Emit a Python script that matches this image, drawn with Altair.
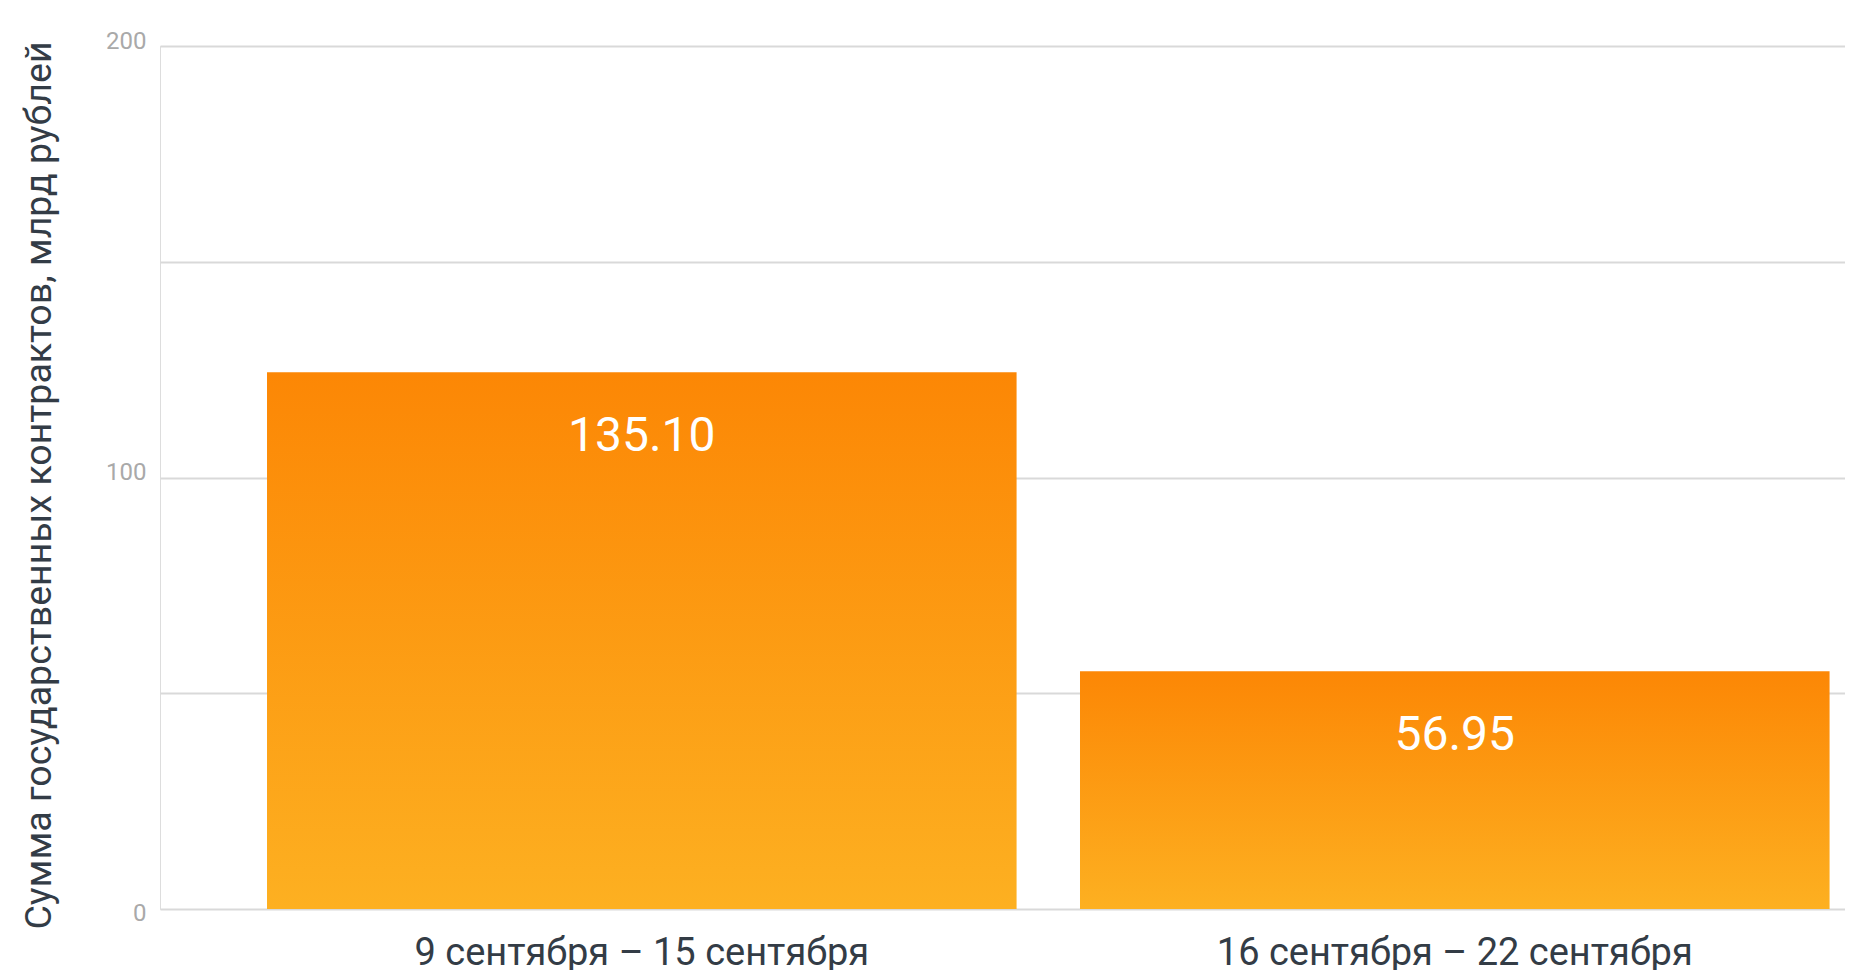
import altair as alt
import pandas as pd

# Data
categories = ["9 сентября – 15 сентября", "16 сентября – 22 сентября"]
bar_values = [124.4, 55.1]          # drawn bar heights (axis units)
value_labels = ["135.10", "56.95"]  # labels printed on the bars
y_ticks = [0, 50, 100, 150, 200]

df = pd.DataFrame({"period": categories, "value": bar_values, "label": value_labels})

FONT = "Roboto"

x_enc = alt.X(
    "period:N",
    sort=categories,
    title=None,
    scale=alt.Scale(paddingInner=0.078, paddingOuter=0.0753, align=0.874),
    axis=alt.Axis(
        labelAngle=0,
        labelFont=FONT,
        labelFontSize=38,
        labelColor="#333c46",
        labelBaseline="alphabetic",
        labelPadding=55,
        labelLimit=0,
        ticks=False,
        tickSize=0,
        domain=False,
        grid=False,
    ),
)

y_axis = alt.Axis(
    values=y_ticks,
    labelExpr="datum.value % 100 == 0 ? datum.label : ''",
    labelFont=FONT,
    labelFontSize=24,
    labelColor="#a9a9a9",
    labelPadding=14,
    labelBaseline="alphabetic",
    labelOffset={"condition": {"test": "datum.value == 0", "value": 11}, "value": 2},
    ticks=False,
    tickSize=0,
    domain=False,
    grid=True,
    gridColor="#d9d9d9",
    gridWidth=2,
    title="Сумма государственных контрактов, млрд рублей",
    titleFont=FONT,
    titleFontSize=37.5,
    titleFontWeight="normal",
    titleColor="#333c46",
    titleAngle=270,
    titleAlign="center",
    titleBaseline="alphabetic",
    titleX=-110,
    titleY=439,
)

y_enc = alt.Y("value:Q", scale=alt.Scale(domain=[0, 200], nice=False), axis=y_axis)

gradient = alt.Gradient(
    gradient="linear",
    stops=[
        alt.GradientStop(color="#fc8705", offset=0),
        alt.GradientStop(color="#fdb021", offset=1),
    ],
    x1=0, x2=0, y1=0, y2=1,
)

bars = alt.Chart(df).mark_bar(color=gradient).encode(x=x_enc, y=y_enc)

labels = alt.Chart(df).mark_text(
    color="white",
    font=FONT,
    fontSize=48,
    baseline="alphabetic",
    align="center",
    dy=79,
).encode(x=alt.X("period:N", sort=categories), y=alt.Y("value:Q"), text="label:N")

chart = (
    alt.layer(bars, labels)
    .properties(
        width=1685,
        height=863,
        autosize=alt.AutoSizeParams(type="none"),
        padding={"left": 152, "top": 38, "right": 0, "bottom": 64},
    )
    .configure_view(stroke=None)
    .configure(background="white")
)

chart.save("out.html", embed_options={"renderer": "svg", "actions": False})
